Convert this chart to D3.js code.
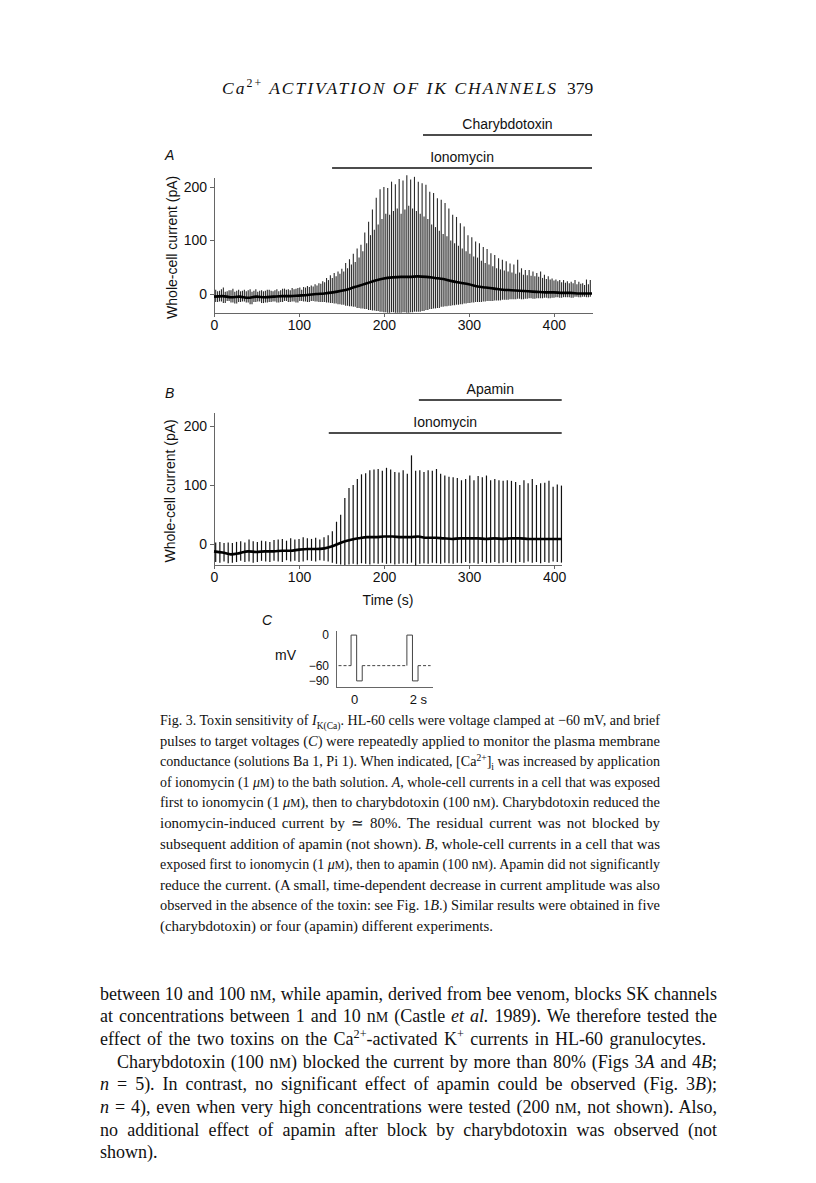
<!DOCTYPE html>
<html>
<head>
<meta charset="utf-8">
<script src="https://cdn.jsdelivr.net/npm/d3@7"></script>
<style>
  body { margin: 0; background: #fff; }
  svg { display: block; }
  .axis path, .axis line { stroke: #666; stroke-width: 1; shape-rendering: crispEdges; }
  .axis text { font-family: "Liberation Sans", Arial, sans-serif; font-size: 14px; fill: #111; }
  .lab { font-family: "Liberation Sans", Arial, sans-serif; font-size: 14px; fill: #111; }
  .serif { font-family: "Liberation Serif", "Times New Roman", serif; fill: #111; }
</style>
</head>
<body>
<div id="content"></div>
<script>
const width = 816;
const height = 1183;

// Panel A: pulses roughly every 4.5 s; peak (top) and trough (bottom) of each response, pA
const spikeStartA = 2, spikePeriodA = 4.5;
const spikeTopA = [8, 6, 12, 5, 7, 4, 8, 6, 5, 9, 6, 4, 7, 6, 8, 5, 9, 7, 10, 9,
  11, 10, 12, 13, 15, 16, 18, 20, 24, 30, 35, 39, 42, 47, 58, 65, 75, 85, 92, 115,
  135, 158, 180, 196, 200, 198, 210, 205, 215, 212, 222, 214, 219, 210, 207, 204, 191, 189, 179, 176,
  170, 160, 148, 144, 132, 126, 110, 106, 98, 95, 88, 84, 76, 73, 67, 64, 61, 57, 55, 64,
  48, 45, 45, 42, 39, 42, 36, 33, 29, 27, 26, 26, 24, 23, 26, 23, 20, 27, 26];
const spikeBottomA = [-15, -14, -17, -13, -16, -18, -15, -14, -16, -19, -15, -14, -17, -16, -15, -14, -16, -15, -13, -15,
  -14, -16, -13, -14, -15, -13, -14, -15, -15, -16, -17, -18, -19, -20, -22, -23, -24, -26, -27, -28,
  -30, -31, -32, -33, -34, -35, -34, -35, -35, -34, -35, -34, -33, -33, -32, -30, -28, -27, -26, -24,
  -23, -22, -21, -20, -19, -18, -17, -16, -15, -15, -14, -13, -13, -12, -12, -11, -11, -10, -10, -9,
  -10, -9, -8, -9, -8, -8, -7, -8, -7, -6, -7, -6, -6, -7, -5, -6, -5, -6, -5];
// Panel A: the shorter traces seen between the main pulses
const midTopA = [5, 9, 4, 7, 10, 6, 5, 8, 7, 4, 9, 6, 5, 8, 6, 7, 5, 10, 8, 7,
  9, 11, 8, 12, 13, 14, 16, 19, 22, 26, 30, 33, 38, 42, 48, 55, 60, 68, 80, 95,
  110, 120, 130, 140, 150, 148, 155, 160, 150, 158, 165, 160, 155, 150, 145, 140, 130, 125, 118, 112,
  108, 100, 95, 90, 85, 80, 75, 70, 68, 62, 58, 55, 52, 48, 46, 44, 42, 40, 38, 40,
  36, 35, 34, 33, 32, 30, 28, 27, 25, 24, 22, 21, 20, 20, 18, 19, 17, 18];
// Panel A: holding current (thick trace)
const baseTimeA = [0, 10, 20, 30, 40, 50, 60, 70, 80, 90, 100, 110, 120, 130, 140, 150, 160, 170, 180, 190,
  200, 210, 220, 230, 240, 250, 260, 270, 280, 290, 300, 310, 320, 330, 340, 350, 360, 370, 380, 390,
  400, 410, 420, 430, 445];
const baseA = [-5, -4, -6, -5, -7, -5, -6, -5, -4, -4, -3, -2, 0, 1, 3, 6, 10, 15, 20, 25,
  29, 31, 32, 32, 33, 32, 30, 28, 24, 21, 18, 14, 12, 10, 8, 7, 6, 5, 4, 3,
  3, 2, 2, 1, 1];

// Panel B
const spikeStartB = 2, spikePeriodB = 4.9;
const spikeTopB = [3, 4, 2, 3, 2, 4, 5, 3, 8, 5, 4, 6, 5, 4, 7, 8, 9, 6, 10, 8,
  9, 12, 10, 9, 11, 8, 12, 15, 22, 38, 50, 78, 95, 100, 110, 118, 120, 125, 126, 127,
  124, 129, 126, 122, 121, 125, 119, 150, 124, 125, 122, 125, 124, 127, 119, 116, 114, 113, 112, 108,
  110, 116, 108, 115, 113, 116, 108, 110, 108, 107, 108, 107, 105, 100, 108, 103, 110, 100, 103, 104,
  107, 97, 101, 99];
const spikeBottomB = [-30, -31, -29, -32, -31, -30, -28, -30, -29, -31, -30, -28, -29, -30, -28, -29, -30, -27, -29, -28,
  -30, -29, -27, -28, -29, -27, -28, -29, -31, -33, -34, -35, -34, -33, -34, -32, -33, -34, -32, -33,
  -31, -33, -32, -34, -33, -32, -33, -31, -36, -33, -32, -33, -31, -32, -33, -31, -32, -33, -31, -32,
  -30, -32, -31, -33, -30, -32, -31, -30, -32, -31, -30, -31, -32, -30, -31, -29, -31, -30, -32, -30,
  -31, -29, -30, -31];
const baseTimeB = [0, 10, 20, 30, 40, 50, 60, 70, 80, 90, 100, 110, 120, 130, 140, 150, 160, 170, 180, 190,
  200, 210, 220, 230, 240, 250, 260, 270, 280, 290, 300, 310, 320, 330, 340, 350, 360, 370, 380, 390,
  400, 409];
const baseB = [-12, -14, -17, -15, -12, -13, -12, -12, -11, -11, -9, -8, -8, -7, -3, 3, 7, 10, 12, 12,
  13, 13, 12, 12, 13, 11, 11, 10, 9, 10, 10, 10, 9, 10, 9, 10, 10, 9, 9, 9,
  9, 9];

// Drug application bars (s)
const treatA = [{ name: "Ionomycin", from: 139, to: 445, level: 0 },
  { name: "Charybdotoxin", from: 246, to: 445, level: 1 }];
const treatB = [{ name: "Ionomycin", from: 135, to: 409, level: 0 },
  { name: "Apamin", from: 241, to: 409, level: 1 }];

const ticksX = [0, 100, 200, 300, 400];
const ticksY = [0, 100, 200];

// Panel C: voltage protocol (s, mV)
const protoT = [-0.45, 0, 0, 0.2, 0.2, 0.4, 0.4, 2, 2, 2.2, 2.2, 2.4, 2.4, 2.85];
const protoV = [-60, -60, 0, 0, -90, -90, -60, -60, 0, 0, -90, -90, -60, -60];
const protoTicksV = [0, -60, -90];

const header = "<i>Ca</i><sup>2+</sup><i> ACTIVATION OF IK CHANNELS</i>";
const caption = [
  "Fig. 3. Toxin sensitivity of <i>I</i><sub>K(Ca)</sub>. HL-60 cells were voltage clamped at −60 mV, and brief",
  "pulses to target voltages (<i>C</i>) were repeatedly applied to monitor the plasma membrane",
  "conductance (solutions Ba 1, Pi 1). When indicated, [Ca<sup>2+</sup>]<sub>i</sub> was increased by application",
  "of ionomycin (1 <i>μ</i><sc>M</sc>) to the bath solution. <i>A</i>, whole-cell currents in a cell that was exposed",
  "first to ionomycin (1 <i>μ</i><sc>M</sc>), then to charybdotoxin (100 n<sc>M</sc>). Charybdotoxin reduced the",
  "ionomycin-induced current by ≃ 80%. The residual current was not blocked by",
  "subsequent addition of apamin (not shown). <i>B</i>, whole-cell currents in a cell that was",
  "exposed first to ionomycin (1 <i>μ</i><sc>M</sc>), then to apamin (100 n<sc>M</sc>). Apamin did not significantly",
  "reduce the current. (A small, time-dependent decrease in current amplitude was also",
  "observed in the absence of the toxin: see Fig. 1<i>B</i>.) Similar results were obtained in five",
  "(charybdotoxin) or four (apamin) different experiments."
];
const body = [
  "between 10 and 100 n<sc>M</sc>, while apamin, derived from bee venom, blocks SK channels",
  "at concentrations between 1 and 10 n<sc>M</sc> (Castle <i>et al.</i> 1989). We therefore tested the",
  "effect of the two toxins on the Ca<sup>2+</sup>-activated K<sup>+</sup> currents in HL-60 granulocytes.",
  "Charybdotoxin (100 n<sc>M</sc>) blocked the current by more than 80% (Figs 3<i>A</i> and 4<i>B</i>;",
  "<i>n</i> = 5). In contrast, no significant effect of apamin could be observed (Fig. 3<i>B</i>);",
  "<i>n</i> = 4), even when very high concentrations were tested (200 n<sc>M</sc>, not shown). Also,",
  "no additional effect of apamin after block by charybdotoxin was observed (not",
  "shown)."
];

const svg = d3.select("#content")
  .append("svg")
  .attr("width", width)
  .attr("height", height)
  .attr("viewBox", `0 0 ${width} ${height}`);

// Text with simple inline markup: <i>, <sub>, <sup>, <sc>; optional justification to a width
function richText(g, str, x, y, fs, cls, target, letterFit) {
  const text = g.append("text").attr("class", cls)
    .attr("x", x).attr("y", y).style("font-size", fs + "px");
  const state = {};
  let shift = 0;
  str.split(/(<\/?(?:i|sub|sup|sc)>)/).forEach(p => {
    const m = p.match(/^<(\/?)(\w+)>$/);
    if (m) { state[m[2]] = !m[1]; return; }
    if (!p) return;
    const want = state.sub ? 0.28 * fs : state.sup ? -0.38 * fs : 0;
    const ts = text.append("tspan").text(p);
    if (want !== shift) ts.attr("dy", want - shift);
    shift = want;
    if (state.i) ts.style("font-style", "italic");
    if (state.sub || state.sup) ts.style("font-size", (fs * 0.68) + "px");
    if (state.sc) ts.style("font-size", (fs * 0.78) + "px");
  });
  if (target) {
    const natural = text.node().getComputedTextLength();
    const spaces = (text.text().match(/ /g) || []).length;
    if (letterFit) {
      text.attr("textLength", target).attr("lengthAdjust", "spacing");
    } else if (natural < target && spaces) {
      text.style("word-spacing", ((target - natural) / spaces) + "px");
    } else {
      text.attr("textLength", target).attr("lengthAdjust", "spacingAndGlyphs");
    }
  }
  return text;
}

// Running header
richText(svg, header, 222, 94, 17.5, "serif", 334, true);
richText(svg, "379", 567, 94, 17.5, "serif", null);

// One current-recording panel
function drawPanel(cfg) {
  const g = svg.append("g");
  const x = d3.scaleLinear().domain(cfg.xDomain).range(cfg.xRange);
  const y = d3.scaleLinear().domain(cfg.yDomain).range(cfg.yRange);

  g.append("g").attr("class", "axis")
    .attr("transform", `translate(0,${cfg.yRange[0]})`)
    .call(d3.axisBottom(x).tickValues(ticksX).tickSize(4).tickSizeOuter(0).tickPadding(3));
  g.append("g").attr("class", "axis")
    .attr("transform", `translate(${cfg.xRange[0]},0)`)
    .call(d3.axisLeft(y).tickValues(ticksY).tickSize(4).tickSizeOuter(0).tickPadding(3));

  const spikes = cfg.tops.map((top, i) => ({ t: cfg.start + i * cfg.period, top, bottom: cfg.bottoms[i] }));
  if (cfg.mids) {
    cfg.mids.forEach((top, i) => spikes.push({
      t: cfg.start + (i + 0.5) * cfg.period, top, bottom: cfg.bottoms[i]
    }));
  }
  g.selectAll("line.spike")
    .data(spikes)
    .join("line")
    .attr("class", "spike")
    .attr("x1", d => x(d.t)).attr("x2", d => x(d.t))
    .attr("y1", d => y(d.bottom)).attr("y2", d => y(d.top))
    .attr("stroke", cfg.spikeColor)
    .attr("stroke-width", cfg.spikeWidth);

  g.append("path")
    .datum(cfg.baseT.map((t, i) => [t, cfg.base[i]]))
    .attr("d", d3.line().x(d => x(d[0])).y(d => y(d[1])).curve(d3.curveMonotoneX))
    .attr("fill", "none")
    .attr("stroke", "#000")
    .attr("stroke-width", 2.6);

  // drug bars
  cfg.treat.forEach(d => {
    const ly = cfg.barY - d.level * 33;
    g.append("line")
      .attr("x1", x(d.from)).attr("x2", x(d.to))
      .attr("y1", ly).attr("y2", ly)
      .attr("stroke", "#111").attr("stroke-width", 1.3);
    g.append("text").attr("class", "lab")
      .attr("x", (x(d.from) + x(d.to)) / 2).attr("y", ly - 6)
      .attr("text-anchor", "middle")
      .text(d.name);
  });

  g.append("text").attr("class", "lab")
    .attr("transform", `translate(${cfg.labelX},${(y(cfg.yDomain[0]) + y(cfg.yDomain[1])) / 2 + 2}) rotate(-90)`)
    .attr("text-anchor", "middle")
    .attr("dominant-baseline", "central")
    .text("Whole-cell current (pA)");

  g.append("text").attr("class", "lab")
    .attr("x", 165).attr("y", cfg.letterY)
    .style("font-style", "italic")
    .text(cfg.letter);
  return { g, x, y };
}

drawPanel({
  letter: "A", letterY: 160, labelX: 172,
  xDomain: [0, 445], xRange: [214, 592],
  yDomain: [-35, 217], yRange: [312.7, 177.9],
  start: spikeStartA, period: spikePeriodA, tops: spikeTopA, bottoms: spikeBottomA, mids: midTopA,
  baseT: baseTimeA, base: baseA, treat: treatA, barY: 168, spikeColor: "#2a2a2a", spikeWidth: 1.1
});

const pB = drawPanel({
  letter: "B", letterY: 398, labelX: 170,
  xDomain: [0, 409], xRange: [214, 561.7],
  yDomain: [-35, 222], yRange: [565, 412.7],
  start: spikeStartB, period: spikePeriodB, tops: spikeTopB, bottoms: spikeBottomB,
  baseT: baseTimeB, base: baseB, treat: treatB, barY: 433, spikeColor: "#111", spikeWidth: 1.2
});
pB.g.append("text").attr("class", "lab")
  .attr("x", 388).attr("y", 605)
  .attr("text-anchor", "middle")
  .text("Time (s)");

// Panel C: pulse protocol
const gC = svg.append("g");
const xC = d3.scaleLinear().domain([-0.54, 2.9]).range([336, 432]);
const yC = d3.scaleLinear().domain([-102, 10]).range([687, 630]);
gC.append("g").attr("class", "axis")
  .attr("transform", "translate(0,687)")
  .call(d3.axisBottom(xC).tickValues([0, 2]).tickSize(0).tickPadding(8)
    .tickFormat(d => d === 2 ? "2 s" : d))
  .call(a => a.selectAll("text").style("font-size", "13px")
    .attr("dx", d => d === 2 ? 11 : 3));
gC.append("g").attr("class", "axis")
  .attr("transform", "translate(336,0)")
  .call(d3.axisLeft(yC).tickValues(protoTicksV).tickSize(0).tickPadding(7)
    .tickFormat(d => d === 0 ? "0" : "−" + Math.abs(d)))
  .call(a => a.selectAll("text").style("font-size", "12px"));

const segs = protoT.slice(1).map((t, i) => ({
  t0: protoT[i], v0: protoV[i], t1: t, v1: protoV[i + 1]
}));
gC.selectAll("line.seg")
  .data(segs)
  .join("line")
  .attr("class", "seg")
  .attr("x1", d => xC(d.t0)).attr("y1", d => yC(d.v0))
  .attr("x2", d => xC(d.t1)).attr("y2", d => yC(d.v1))
  .attr("stroke", "#444")
  .attr("stroke-width", 1)
  .attr("stroke-dasharray", d => (d.v0 === -60 && d.v1 === -60) ? "3,2" : null);

gC.append("text").attr("class", "lab").attr("x", 275).attr("y", 660).text("mV");
gC.append("text").attr("class", "lab").attr("x", 262).attr("y", 625)
  .style("font-style", "italic").text("C");

// Figure legend and running text
caption.forEach((line, i) => {
  const last = i === caption.length - 1;
  richText(svg, line, 160, 725 + i * 20.6, 14.9, "serif", last ? null : 500);
});
const bodyWidths = [617, 617, 606, 600, 617, 617, 617, null];
body.forEach((line, i) => {
  const x0 = i === 3 ? 117 : 100;
  richText(svg, line, x0, 999.5 + i * 22.7, 18, "serif", bodyWidths[i]);
});
</script>
</body>
</html>
